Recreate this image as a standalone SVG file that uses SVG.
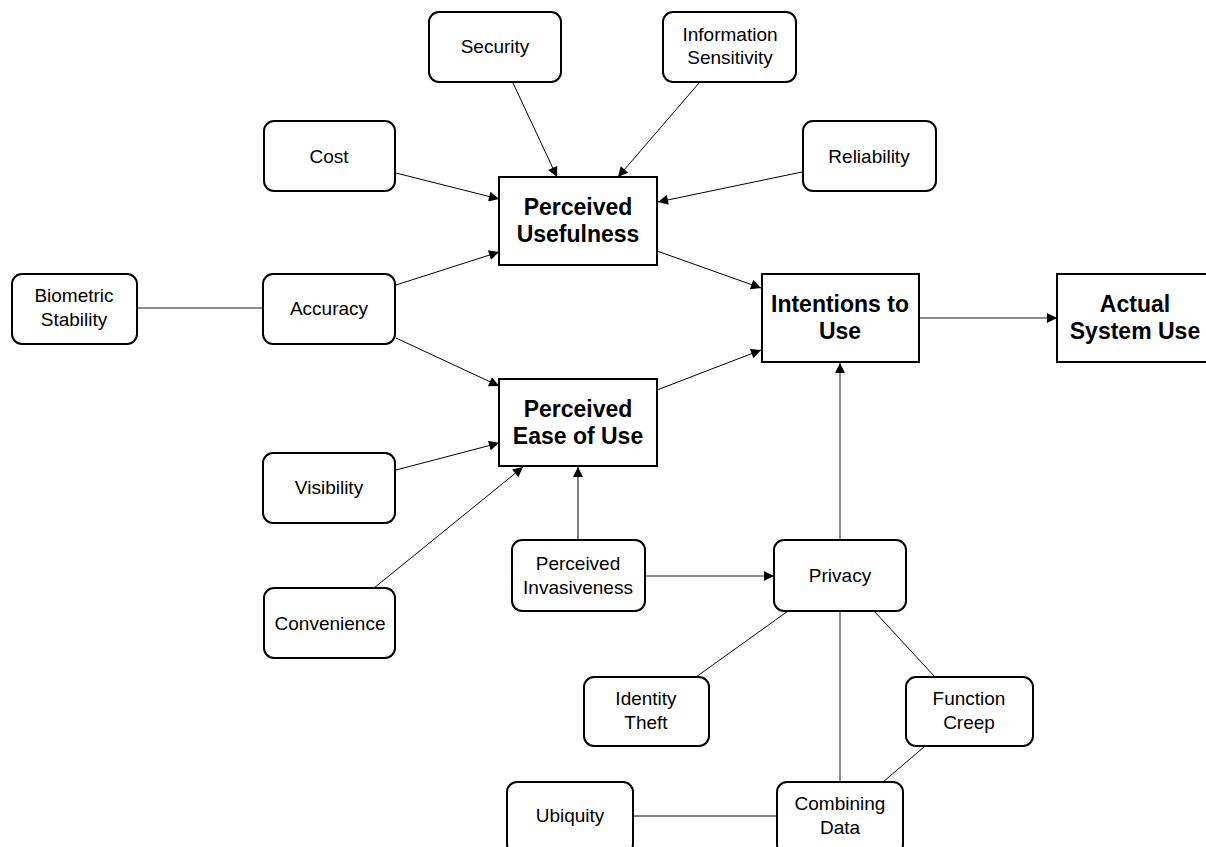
<svg xmlns="http://www.w3.org/2000/svg" width="1206" height="847" viewBox="0 0 1206 847">
<defs>
<marker id="arr" viewBox="0 0 10 10" refX="10" refY="5" markerWidth="11" markerHeight="10" markerUnits="userSpaceOnUse" orient="auto">
<path d="M0,0 L10,5 L0,10 z" fill="#000"/>
</marker>
</defs>
<style>
.n rect{fill:#fff;stroke:#000;stroke-width:2}
.m rect{fill:#fff;stroke:#000;stroke-width:2}
.n text{font-family:"Liberation Sans",Arial,sans-serif;font-size:19px;text-anchor:middle;fill:#000}
.m text{font-family:"Liberation Sans",Arial,sans-serif;font-size:23px;font-weight:bold;text-anchor:middle;fill:#000}
.c line{stroke:#000;stroke-width:1}
.c line.g{stroke:#666;stroke-width:1.5}
.c line.a{marker-end:url(#arr)}
</style>
<rect width="1206" height="847" fill="#fff"/>
<g class="c" id="connectors">
<line class="a" x1="396" y1="173" x2="499" y2="199"/>
<line class="a" x1="513" y1="83" x2="557" y2="177"/>
<line class="a" x1="699" y1="83" x2="618" y2="177"/>
<line class="a" x1="802" y1="172" x2="658" y2="202"/>
<line class="a" x1="396" y1="285" x2="499" y2="252"/>
<line class="g" x1="137" y1="308" x2="263" y2="308"/>
<line class="a" x1="396" y1="338" x2="499" y2="386"/>
<line class="a" x1="657" y1="251" x2="761" y2="288"/>
<line class="a" x1="657" y1="390" x2="761" y2="350"/>
<line class="g a" x1="919" y1="318" x2="1057" y2="318"/>
<line class="a" x1="396" y1="470" x2="499" y2="443"/>
<line class="a" x1="374" y1="588" x2="523" y2="467"/>
<line class="a" x1="578" y1="540" x2="578" y2="467"/>
<line class="g a" x1="645" y1="576" x2="774" y2="576"/>
<line class="g a" x1="840" y1="540" x2="840" y2="363"/>
<line x1="788" y1="611" x2="696" y2="677"/>
<line x1="874" y1="611" x2="935" y2="677"/>
<line class="g" x1="840" y1="611" x2="840" y2="782"/>
<line x1="924" y1="747" x2="883" y2="782"/>
<line x1="633" y1="816" x2="777" y2="816"/>
</g>
<g class="n" id="security"><rect x="429" y="12" width="132" height="70" rx="10"/><text x="495" y="53">Security</text></g>
<g class="n" id="info-sensitivity"><rect x="663" y="12" width="133" height="70" rx="10"/><text x="730" y="41">Information</text><text x="730" y="64">Sensitivity</text></g>
<g class="n" id="cost"><rect x="264" y="121" width="131" height="70" rx="10"/><text x="329" y="163">Cost</text></g>
<g class="n" id="reliability"><rect x="803" y="121" width="133" height="70" rx="10"/><text x="869" y="163">Reliability</text></g>
<g class="m" id="perceived-usefulness"><rect x="499" y="177" width="158" height="88"/><text x="578" y="215">Perceived</text><text x="578" y="242">Usefulness</text></g>
<g class="n" id="biometric-stability"><rect x="12" y="274" width="125" height="70" rx="10"/><text x="74" y="302">Biometric</text><text x="74" y="326">Stability</text></g>
<g class="n" id="accuracy"><rect x="263" y="274" width="132" height="70" rx="10"/><text x="329" y="315">Accuracy</text></g>
<g class="m" id="intentions"><rect x="762" y="274" width="157" height="88"/><text x="840" y="312">Intentions to</text><text x="840" y="339">Use</text></g>
<g class="m" id="actual-use"><rect x="1057" y="274" width="156" height="88"/><text x="1135" y="312">Actual</text><text x="1135" y="339">System Use</text></g>
<g class="m" id="perceived-ease"><rect x="499" y="379" width="158" height="87"/><text x="578" y="417">Perceived</text><text x="578" y="444">Ease of Use</text></g>
<g class="n" id="visibility"><rect x="263" y="453" width="132" height="70" rx="10"/><text x="329" y="494">Visibility</text></g>
<g class="n" id="convenience"><rect x="264" y="588" width="131" height="70" rx="10"/><text x="330" y="630">Convenience</text></g>
<g class="n" id="perceived-invasiveness"><rect x="512" y="540" width="133" height="71" rx="10"/><text x="578" y="570">Perceived</text><text x="578" y="594">Invasiveness</text></g>
<g class="n" id="privacy"><rect x="774" y="540" width="132" height="71" rx="10"/><text x="840" y="582">Privacy</text></g>
<g class="n" id="identity-theft"><rect x="584" y="677" width="125" height="69" rx="10"/><text x="646" y="705">Identity</text><text x="646" y="729">Theft</text></g>
<g class="n" id="function-creep"><rect x="906" y="677" width="127" height="69" rx="10"/><text x="969" y="705">Function</text><text x="969" y="729">Creep</text></g>
<g class="n" id="ubiquity"><rect x="507" y="782" width="126" height="72" rx="10"/><text x="570" y="822">Ubiquity</text></g>
<g class="n" id="combining-data"><rect x="777" y="782" width="126" height="72" rx="10"/><text x="840" y="810">Combining</text><text x="840" y="834">Data</text></g>
</svg>
